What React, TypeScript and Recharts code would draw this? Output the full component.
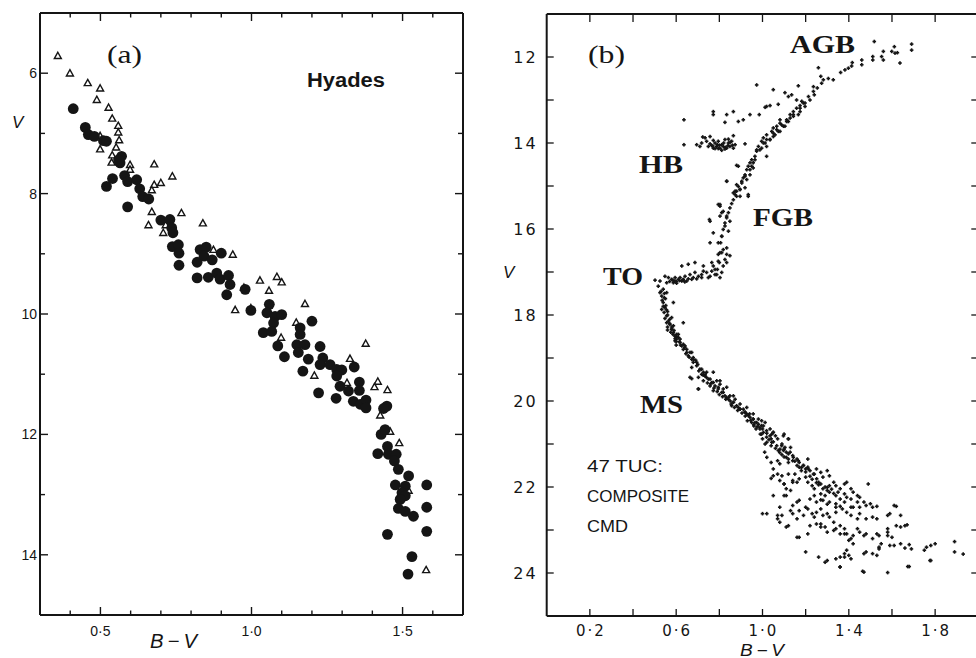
import React from "react";
import { ScatterChart, Scatter, XAxis, YAxis, ReferenceLine } from "recharts";

type Pt = [number, number];

const INK = "#151515";

// ---------- (a) Hyades: B-V against V ----------
const hyadesCircles: Pt[] = [
  [0.41, 6.59], [0.45, 6.9], [0.46, 7.02], [0.48, 7.05], [0.51, 7.12], [0.52, 7.13], [0.57, 7.38],
  [0.565, 7.49], [0.56, 7.44], [0.54, 7.75], [0.52, 7.88], [0.58, 7.7], [0.59, 7.8], [0.62, 7.77],
  [0.63, 7.92], [0.64, 8.05], [0.66, 8.09], [0.59, 8.22], [0.7, 8.44], [0.73, 8.43], [0.736, 8.57],
  [0.74, 8.65], [0.738, 8.88], [0.758, 8.85], [0.76, 8.99], [0.76, 9.19], [0.82, 9.14], [0.83, 8.93],
  [0.85, 8.89], [0.843, 9.04], [0.87, 9.1], [0.9, 8.99], [0.82, 9.4], [0.857, 9.39], [0.885, 9.32],
  [0.896, 9.42], [0.924, 9.36], [0.929, 9.51], [0.918, 9.68], [0.979, 9.59], [0.998, 9.94],
  [1.059, 9.84], [1.051, 9.98], [1.078, 10.04], [1.1, 10.01], [1.2, 10.12], [1.161, 10.23],
  [1.073, 10.15], [1.039, 10.31], [1.067, 10.29], [1.087, 10.53], [1.109, 10.71], [1.15, 10.51],
  [1.161, 10.34], [1.155, 10.64], [1.177, 10.51], [1.188, 10.75], [1.17, 10.95], [1.227, 10.54],
  [1.236, 10.73], [1.227, 10.84], [1.26, 10.84], [1.282, 10.92], [1.299, 10.93], [1.282, 11.03],
  [1.293, 11.2], [1.321, 11.28], [1.34, 10.88], [1.357, 11.13], [1.357, 11.27], [1.222, 11.31],
  [1.28, 11.4], [1.337, 11.45], [1.36, 11.5], [1.379, 11.43], [1.379, 11.56], [1.448, 11.53],
  [1.437, 11.57], [1.429, 12.0], [1.442, 11.92], [1.45, 12.2], [1.418, 12.32], [1.453, 12.33],
  [1.479, 12.33], [1.473, 12.44], [1.486, 12.58], [1.52, 12.69], [1.476, 12.84], [1.509, 12.86],
  [1.498, 12.97], [1.509, 13.02], [1.492, 13.08], [1.486, 13.23], [1.509, 13.28], [1.536, 13.36],
  [1.58, 12.84], [1.58, 13.21], [1.58, 13.61], [1.45, 13.66], [1.531, 14.03], [1.518, 14.32],
];

const hyadesTriangles: Pt[] = [
  [0.359, 5.71], [0.399, 6.0], [0.458, 6.16], [0.499, 6.25], [0.488, 6.44], [0.527, 6.57],
  [0.539, 6.75], [0.559, 6.87], [0.559, 6.98], [0.562, 7.11], [0.499, 7.04], [0.499, 7.26],
  [0.552, 7.23], [0.539, 7.36], [0.537, 7.48], [0.598, 7.52], [0.598, 7.6], [0.678, 7.51],
  [0.738, 7.71], [0.678, 7.85], [0.7, 7.82], [0.67, 7.94], [0.67, 8.3], [0.768, 8.32], [0.659, 8.52],
  [0.708, 8.65], [0.716, 8.52], [0.839, 8.49], [0.938, 9.01], [0.874, 8.93], [0.946, 9.93],
  [1.028, 9.44], [1.084, 9.38], [1.1, 9.47], [1.058, 9.61], [0.975, 9.56], [0.998, 9.9],
  [1.177, 9.83], [1.148, 10.14], [1.098, 10.39], [1.378, 10.49], [1.326, 10.74], [1.208, 11.02],
  [1.316, 11.14], [1.418, 11.12], [1.407, 11.21], [1.45, 11.26], [1.426, 11.68], [1.459, 11.95],
  [1.489, 12.14], [1.52, 12.93], [1.578, 14.25],
];

const hyadesXTicks = [0.4, 0.5, 0.6, 0.7, 0.8, 0.9, 1.0, 1.1, 1.2, 1.3, 1.4, 1.5, 1.6];
const hyadesXLabels = [0.5, 1.0, 1.5];
const hyadesYTicks = [6, 7, 8, 9, 10, 11, 12, 13, 14];
const hyadesYLabels = [6, 8, 10, 12, 14];

// ---------- (b) 47 Tuc composite CMD ----------
const agbPoints: Pt[] = [
  [1.518, 11.64], [1.611, 11.76], [1.691, 11.7], [1.691, 11.84], [1.637, 12.14], [1.56, 11.87],
  [1.552, 11.99], [1.56, 12.07], [1.511, 11.99], [1.511, 12.07], [1.599, 11.87], [1.614, 11.91],
  [1.625, 11.9], [1.46, 12.07], [1.46, 12.18], [1.416, 12.13], [1.413, 12.21], [1.398, 12.26],
  [1.382, 12.3], [1.362, 12.36], [1.328, 12.53], [1.305, 12.5], [1.282, 12.53], [1.27, 12.45],
  [1.259, 12.25], [1.274, 12.61], [1.254, 12.72], [1.24, 12.88], [1.213, 12.92], [1.166, 12.67],
  [1.135, 12.88], [1.104, 12.83], [0.973, 12.65], [1.073, 13.1], [1.012, 13.17], [0.985, 13.34],
  [0.942, 13.34], [0.911, 13.46], [0.888, 13.5], [0.865, 13.27], [0.834, 13.34], [0.826, 13.52],
  [0.772, 13.27], [0.772, 13.34], [0.636, 13.46], [1.236, 12.8], [1.22, 13.0], [1.182, 13.03],
  [1.158, 13.0], [1.236, 12.69], [1.174, 13.27], [1.05, 12.76], [1.035, 13.13], [1.019, 13.15],
  [1.12, 12.92],
];

const hbPoints: Pt[] = [
  [0.636, 14.04], [0.695, 14.04], [0.71, 14.08], [0.718, 14.0], [0.734, 13.88], [0.741, 13.96],
  [0.749, 14.08], [0.757, 14.02], [0.765, 14.06], [0.772, 14.12], [0.78, 14.0], [0.788, 14.08],
  [0.795, 13.96], [0.803, 14.12], [0.811, 14.04], [0.818, 14.08], [0.826, 13.92], [0.834, 14.12],
  [0.842, 14.0], [0.849, 14.08], [0.857, 13.96], [0.865, 14.12], [0.873, 14.04], [0.865, 13.83],
  [0.842, 13.91], [0.757, 13.85], [0.772, 13.94], [0.795, 14.13], [0.826, 14.14], [0.811, 14.17],
  [0.78, 14.13], [0.723, 13.86], [0.919, 14.02], [0.88, 14.52], [0.8, 14.05], [0.82, 14.0],
  [0.84, 14.06], [0.86, 14.05], [0.79, 14.04], [0.77, 14.07], [0.85, 13.98], [0.83, 14.1],
];

const rgbPoints: Pt[] = [
  [1.081, 13.46], [1.066, 13.61], [1.05, 13.65], [1.043, 13.73], [1.019, 13.81], [1.004, 13.88],
  [0.996, 13.96], [0.981, 14.08], [0.973, 14.19], [0.965, 14.31], [0.95, 14.39], [0.942, 14.46],
  [0.934, 14.54], [0.927, 14.62], [0.919, 14.74], [0.911, 14.81], [0.904, 14.89], [0.888, 15.01],
  [0.88, 15.12], [0.873, 15.2], [0.865, 15.32], [0.857, 15.41], [0.849, 15.51], [0.842, 15.62],
  [0.834, 15.74], [0.826, 15.86], [0.818, 16.01], [0.811, 16.17], [0.806, 16.32], [0.803, 16.55],
  [0.8, 16.78], [0.791, 16.94], [0.78, 17.06], [0.934, 15.24], [0.834, 14.89], [0.754, 15.78],
  [0.757, 16.32], [0.834, 16.44], [0.834, 16.78], [0.803, 15.47], [0.795, 15.43], [0.811, 15.62],
  [0.865, 15.16], [0.896, 15.24], [0.88, 14.97], [0.919, 15.04], [0.942, 14.74], [0.957, 14.58],
  [0.988, 14.16], [1.019, 13.92], [1.05, 13.77], [1.081, 13.73], [1.089, 13.58], [1.112, 13.46],
  [1.128, 13.34], [1.143, 13.27], [1.158, 13.19], [1.174, 13.13], [1.189, 13.07], [1.197, 13.15],
  [1.166, 13.34], [1.143, 13.38], [1.12, 13.5], [1.104, 13.61], [1.073, 13.73], [1.058, 13.81],
  [1.035, 13.92], [1.012, 14.0], [0.996, 14.12], [0.965, 14.39], [0.95, 14.54], [0.927, 14.85],
  [0.896, 15.08], [0.803, 15.43], [0.818, 15.59], [0.834, 15.7], [0.803, 15.7], [0.849, 15.82],
  [0.826, 15.93], [0.842, 16.05], [0.811, 16.17], [0.795, 16.32], [0.818, 16.48], [0.757, 15.82],
  [0.772, 16.09], [0.88, 15.24], [0.896, 15.08], [0.934, 15.2], [0.888, 14.54], [0.834, 14.89],
  [1.019, 14.31], [0.957, 14.46], [0.942, 14.62], [0.919, 14.77], [0.904, 14.93], [0.873, 15.12],
  [1.066, 13.69], [1.05, 13.85], [1.097, 13.61], [1.112, 13.5], [1.143, 13.34], [1.174, 13.19],
  [1.197, 13.07], [1.128, 13.42], [1.081, 13.54], [1.035, 13.92], [1.004, 14.0], [0.973, 14.16],
  [1.019, 14.08],
];

const subgiantPoints: Pt[] = [
  [0.502, 17.19], [0.525, 17.21], [0.548, 17.1], [0.564, 17.13], [0.579, 17.17], [0.587, 17.25],
  [0.594, 17.21], [0.61, 17.17], [0.618, 17.13], [0.633, 17.17], [0.641, 17.1], [0.656, 17.16],
  [0.664, 17.06], [0.679, 17.13], [0.687, 17.01], [0.703, 17.1], [0.718, 17.06], [0.726, 16.98],
  [0.741, 17.01], [0.757, 17.1], [0.765, 16.98], [0.772, 16.86], [0.788, 17.06], [0.803, 17.13],
  [0.811, 17.01], [0.795, 16.59], [0.811, 16.55], [0.834, 16.59], [0.849, 16.62], [0.826, 16.71],
  [0.818, 16.86], [0.626, 16.86], [0.656, 16.82], [0.687, 16.78], [0.726, 16.86], [0.765, 16.78],
  [0.795, 16.75], [0.78, 16.94], [0.595, 17.13], [0.602, 17.26], [0.626, 17.21], [0.649, 17.21],
  [0.672, 17.17], [0.695, 17.16], [0.718, 17.13], [0.749, 17.13], [0.556, 17.25], [0.585, 17.19],
  [0.6, 17.22], [0.615, 17.2], [0.63, 17.19], [0.57, 17.22], [0.64, 17.23],
];

const upperMsPoints: Pt[] = [
  [0.54, 17.4], [0.533, 17.56], [0.54, 17.71], [0.548, 17.83], [0.544, 17.94], [0.556, 18.02],
  [0.564, 18.14], [0.571, 18.22], [0.579, 18.33], [0.587, 18.41], [0.594, 18.49], [0.602, 18.56],
  [0.618, 18.64], [0.626, 18.72], [0.633, 18.8], [0.649, 18.87], [0.656, 18.95], [0.672, 19.03],
  [0.679, 19.1], [0.695, 19.18], [0.71, 19.26], [0.726, 19.33], [0.734, 19.42], [0.749, 19.49],
  [0.765, 19.57], [0.78, 19.65], [0.795, 19.72], [0.811, 19.8], [0.826, 19.88], [0.842, 19.96],
  [0.865, 20.03], [0.88, 20.11], [0.896, 20.19], [0.919, 20.26], [0.934, 20.34], [0.957, 20.42],
  [0.973, 20.5], [0.996, 20.57], [1.019, 20.69], [0.517, 17.33], [0.525, 17.48], [0.556, 17.48],
  [0.533, 17.87], [0.587, 17.71], [0.633, 18.18], [0.579, 18.06], [0.587, 18.25], [0.61, 18.52],
  [0.595, 18.6], [0.641, 18.72], [0.664, 18.87], [0.679, 18.99], [0.672, 19.22], [0.664, 19.45],
  [0.703, 19.72], [0.718, 19.38], [0.726, 19.53], [0.741, 19.33], [0.757, 19.65], [0.788, 19.53],
  [0.803, 19.61], [0.772, 19.76], [0.818, 19.72], [0.834, 19.92], [0.849, 19.88], [0.873, 19.96],
  [0.857, 20.11], [0.896, 20.07], [0.911, 20.19], [0.927, 20.3], [0.957, 20.3], [0.95, 20.5],
  [0.981, 20.42], [0.996, 20.46], [0.988, 20.65], [1.012, 20.5], [1.035, 20.65], [1.043, 20.77],
  [0.556, 18.18], [0.579, 18.33], [0.602, 18.45], [0.618, 18.56], [0.633, 18.68], [0.649, 18.8],
  [0.672, 18.87], [0.679, 19.03], [0.695, 19.1], [0.718, 19.26], [0.734, 19.38], [0.757, 19.49],
  [0.772, 19.57], [0.795, 19.68], [0.818, 19.8], [0.842, 19.92], [0.865, 20.03], [0.888, 20.15],
  [0.919, 20.26], [0.942, 20.38], [0.965, 20.5], [0.988, 20.61], [1.004, 20.73], [1.019, 20.84],
  [1.043, 20.96], [1.066, 21.04], [1.081, 21.12], [1.097, 21.15], [1.12, 21.23], [1.143, 21.31],
  [1.166, 21.39], [1.189, 21.5], [1.212, 21.58], [1.236, 21.7], [1.251, 21.81], [0.703, 19.45],
  [0.672, 19.48], [0.703, 19.72], [0.772, 19.33], [0.803, 19.53], [0.834, 19.68], [0.865, 19.88],
  [0.896, 20.19], [0.927, 20.15], [0.957, 20.42], [0.981, 20.54], [1.004, 20.58], [0.996, 20.77],
  [1.012, 21.0], [1.035, 20.81], [1.05, 20.73], [1.097, 20.81], [1.12, 20.88], [1.073, 21.15],
  [1.089, 21.04], [1.104, 21.08], [1.128, 21.19], [0.545, 17.5], [0.55, 17.62], [0.535, 17.66],
  [0.552, 17.78], [0.56, 17.92], [0.548, 18.08], [0.57, 18.1], [0.56, 18.28], [0.575, 18.4],
  [0.59, 18.36], [0.6, 18.5], [0.615, 18.62], [0.6, 18.7],
];

// the dark, crowded ridge of the main sequence
const msBandPoints: Pt[] = [
  [0.53, 17.45], [0.545, 17.6], [0.54, 17.8], [0.555, 17.88], [0.56, 18.0], [0.57, 18.2],
  [0.58, 18.28], [0.585, 18.45], [0.595, 18.55], [0.61, 18.45], [0.56, 18.35], [0.6, 18.62],
  [0.62, 18.7], [0.64, 18.76], [0.645, 18.9], [0.66, 18.98], [0.69, 19.05], [0.7, 19.15],
  [0.705, 19.3], [0.725, 19.4], [0.74, 19.45], [0.745, 19.58], [0.76, 19.6], [0.775, 19.7],
  [0.79, 19.78], [0.8, 19.85], [0.815, 19.9], [0.83, 19.96], [0.85, 20.0], [0.855, 20.07],
  [0.87, 20.15], [0.885, 20.22], [0.905, 20.28], [0.92, 20.35], [0.94, 20.3], [0.945, 20.45],
  [0.96, 20.55], [0.975, 20.6], [1.0, 20.65], [1.02, 20.75], [1.03, 20.9], [1.05, 20.95],
  [1.06, 21.1], [1.08, 21.2], [1.09, 21.25], [1.1, 21.3], [1.12, 21.35], [1.15, 21.4],
  [1.16, 21.5], [1.18, 21.55], [1.2, 21.65], [1.22, 21.75], [1.23, 21.82], [1.25, 21.9],
  [1.26, 21.95], [1.29, 22.0], [1.32, 22.05], [1.33, 22.15], [1.29, 22.2], [1.27, 22.3],
  [1.3, 22.4], [1.36, 22.45],
];

const lowerMsPoints: Pt[] = [
  [0.93, 20.46], [0.96, 20.58], [0.97, 20.65], [0.99, 20.77], [1.0, 20.88], [1.02, 20.96],
  [1.04, 21.04], [1.06, 20.81], [1.07, 20.88], [1.09, 21.0], [1.1, 21.12], [1.11, 21.19],
  [1.13, 21.08], [1.11, 21.31], [1.14, 21.27], [1.16, 21.35], [1.17, 21.43], [1.19, 21.5],
  [1.21, 21.35], [1.21, 21.54], [1.22, 21.62], [1.24, 21.7], [1.25, 21.58], [1.27, 21.66],
  [1.28, 21.77], [1.3, 21.62], [1.31, 21.74], [1.27, 21.93], [1.3, 22.01], [1.33, 21.89],
  [1.34, 21.97], [1.36, 22.04], [1.38, 21.93], [1.39, 21.89], [1.41, 22.04], [1.42, 22.12],
  [1.44, 22.2], [1.45, 22.24], [1.47, 22.35], [1.48, 22.43], [1.5, 22.39], [1.51, 22.47],
  [1.53, 22.45], [1.31, 22.12], [1.34, 22.2], [1.36, 22.28], [1.38, 22.35], [1.41, 22.47],
  [1.34, 22.39], [1.37, 22.51], [1.39, 22.59], [1.41, 22.66], [1.44, 22.74], [1.45, 22.62],
  [1.48, 22.74], [1.51, 22.7], [1.53, 22.74], [1.58, 22.66], [1.59, 22.62], [1.61, 22.43],
  [1.62, 22.45], [1.64, 22.66], [1.62, 22.9], [1.64, 22.93], [1.66, 22.9], [1.67, 22.88],
  [1.58, 22.97], [1.58, 23.05], [1.54, 23.13], [1.53, 23.09], [1.51, 23.2], [1.48, 23.09],
  [1.47, 23.13], [1.45, 23.05], [1.44, 22.97], [1.42, 23.13], [1.41, 23.2], [1.39, 23.09],
  [1.38, 22.97], [1.36, 22.9], [1.33, 22.82], [1.31, 22.7], [1.3, 22.62], [1.28, 22.66],
  [1.27, 22.51], [1.25, 22.59], [1.24, 22.7], [1.23, 22.62], [1.21, 22.51], [1.19, 22.66],
  [1.17, 22.55], [1.16, 22.74], [1.14, 22.62], [1.13, 22.55], [1.11, 22.2], [1.1, 22.2],
  [1.08, 22.47], [1.07, 22.66], [1.05, 22.2], [1.09, 22.66], [1.07, 22.74], [1.08, 22.82],
  [1.11, 22.93], [1.12, 22.9], [1.16, 23.17], [1.17, 23.17], [1.21, 23.09], [1.22, 22.9],
  [1.25, 22.86], [1.27, 22.93], [1.27, 22.86], [1.29, 22.93], [1.3, 23.05], [1.33, 23.01],
  [1.34, 22.97], [1.36, 23.09], [1.38, 23.09], [1.4, 23.24], [1.42, 23.32], [1.39, 23.47],
  [1.38, 23.55], [1.38, 23.63], [1.4, 23.59], [1.41, 23.67], [1.36, 23.63], [1.34, 23.67],
  [1.3, 23.71], [1.29, 23.75], [1.26, 23.63], [1.2, 23.51], [1.36, 23.86], [1.47, 23.98],
  [1.58, 23.99], [1.47, 23.55], [1.48, 23.51], [1.51, 23.55], [1.53, 23.59], [1.54, 23.44],
  [1.55, 23.32], [1.54, 23.4], [1.58, 23.13], [1.6, 23.17], [1.59, 23.36], [1.61, 23.36],
  [1.64, 23.32], [1.66, 23.42], [1.68, 23.34], [1.69, 23.44], [1.75, 23.47], [1.76, 23.4],
  [1.78, 23.36], [1.8, 23.32], [1.78, 23.71], [1.68, 23.85], [1.89, 23.27], [1.89, 23.51],
  [1.93, 23.56], [1.0, 22.62], [1.02, 22.62], [1.04, 21.8], [1.05, 21.58], [1.07, 21.7],
  [1.09, 21.74], [1.1, 21.93], [1.12, 21.7], [1.14, 21.85], [1.16, 21.89], [1.17, 21.81],
  [1.2, 21.77], [1.21, 21.89], [1.23, 21.97], [1.24, 22.04], [1.26, 21.89], [1.27, 22.16],
  [1.28, 22.31], [1.22, 22.28], [1.2, 22.47], [1.17, 22.31], [1.16, 22.35], [1.14, 22.43],
  [1.24, 22.2], [1.31, 22.35], [1.25, 22.35], [1.34, 22.59], [1.34, 22.47], [1.39, 22.24],
  [1.41, 22.28], [1.44, 22.35], [1.45, 22.47], [1.42, 22.47], [1.49, 21.93], [1.31, 21.97],
  [1.28, 22.04], [1.3, 22.08], [1.35, 22.12], [1.38, 22.16], [1.01, 21.19], [1.02, 21.31],
  [1.04, 20.88], [1.05, 20.73], [1.1, 20.77], [1.12, 20.88], [1.04, 21.43], [1.07, 21.39],
  [1.08, 21.46], [1.12, 21.43], [1.14, 21.39], [1.17, 21.54], [1.18, 21.62], [1.15, 21.7],
  [1.2, 21.58], [1.14, 21.89], [1.13, 22.08], [1.11, 22.04], [1.1, 21.93], [1.08, 21.85],
  [1.05, 21.74], [1.464, 23.96], [1.359, 23.86], [1.673, 23.85], [1.776, 23.71],
];

const tucXTicks = [0.2, 0.4, 0.6, 0.8, 1.0, 1.2, 1.4, 1.6, 1.8];
const tucXLabels = [0.2, 0.6, 1.0, 1.4, 1.8];
const tucYTicks = [12, 13, 14, 15, 16, 17, 18, 19, 20, 21, 22, 23, 24];
const tucYLabels = [12, 14, 16, 18, 20, 22, 24];

const rows = (pts: Pt[]) => pts.map(([x, y]) => ({ x, y }));
const isIn = (list: number[], v: number) => list.some((l) => Math.abs(l - v) < 1e-6);
const dotted = (v: number) => v.toFixed(1).replace(".", "\u00b7");

// plot boxes (chart-local pixels)
const A = { left: 40, right: 463, top: 13, bottom: 615 };
const B = { left: 66.7, right: 498.3, top: 14, bottom: 616 };
const AXIS_X_H = 30;
const AXIS_Y_W = 36;

const Disc = (p: any) => <circle cx={p.cx} cy={p.cy} r={5.4} fill={INK} />;
const OpenTri = (p: any) => {
  const s = 3.5;
  return (
    <polygon
      points={`${p.cx},${p.cy - s} ${p.cx + s},${p.cy + s * 0.8} ${p.cx - s},${p.cy + s * 0.8}`}
      fill="#fff"
      stroke={INK}
      strokeWidth={1.4}
    />
  );
};
const Speck = (p: any) => (
  <g fill={INK}>
    <rect x={p.cx - 1.8} y={p.cy - 0.8} width={3.6} height={1.6} />
    <rect x={p.cx - 0.8} y={p.cy - 1.8} width={1.6} height={3.6} />
  </g>
);

const HyadesXTick = (p: any) => {
  const v = p.payload.value;
  const major = isIn(hyadesXLabels, v);
  const len = major ? 8 : 4.5;
  return (
    <g>
      <line x1={p.x} x2={p.x} y1={A.bottom} y2={A.bottom - len} stroke={INK} strokeWidth={1.4} />
      <line x1={p.x} x2={p.x} y1={A.top} y2={A.top + len} stroke={INK} strokeWidth={1.4} />
      {major && (
        <text x={p.x} y={A.bottom + 21} textAnchor="middle" fontSize={14} fill={INK}
          fontFamily="Liberation Sans, Arial, sans-serif">{dotted(v)}</text>
      )}
    </g>
  );
};

const HyadesYTick = (p: any) => {
  const v = p.payload.value;
  const major = isIn(hyadesYLabels, v);
  const len = major ? 8 : 5;
  return (
    <g>
      <line x1={A.left} x2={A.left + len} y1={p.y} y2={p.y} stroke={INK} strokeWidth={1.4} />
      <line x1={A.right} x2={A.right - len} y1={p.y} y2={p.y} stroke={INK} strokeWidth={1.4} />
      {major && (
        <text x={A.left - 3} y={p.y + 5} textAnchor="end" fontSize={14} fill={INK}
          fontFamily="Liberation Sans, Arial, sans-serif">{v}</text>
      )}
    </g>
  );
};

const TucXTick = (p: any) => {
  const v = p.payload.value;
  const major = isIn(tucXLabels, v);
  return (
    <g>
      <line x1={p.x} x2={p.x} y1={B.bottom} y2={B.bottom - 7} stroke={INK} strokeWidth={1.3} />
      <line x1={p.x} x2={p.x} y1={B.top} y2={B.top + 8} stroke={INK} strokeWidth={1.3} />
      {major && (
        <text x={p.x + 1} y={B.bottom + 20} textAnchor="middle" fontSize={15} letterSpacing={2}
          fill={INK} fontFamily="DejaVu Sans, sans-serif">{dotted(v)}</text>
      )}
    </g>
  );
};

const TucYTick = (p: any) => {
  const v = p.payload.value;
  const major = isIn(tucYLabels, v);
  return (
    <g>
      <line x1={B.left} x2={B.left + 7} y1={p.y} y2={p.y} stroke={INK} strokeWidth={1.3} />
      <line x1={B.right} x2={B.right - 7} y1={p.y} y2={p.y} stroke={INK} strokeWidth={1.3} />
      {major && (
        <text x={B.left - 9} y={p.y + 6} textAnchor="end" fontSize={16} letterSpacing={2}
          fill={INK} fontFamily="DejaVu Sans, sans-serif">{v}</text>
      )}
    </g>
  );
};

const frame = { stroke: INK, strokeWidth: 2 };

const HyadesPanel = () => (
  <ScatterChart width={480} height={658}
    margin={{ top: A.top, right: 480 - A.right, bottom: 658 - A.bottom - AXIS_X_H, left: A.left - AXIS_Y_W }}>
    <XAxis type="number" dataKey="x" domain={[0.3, 1.7]} allowDataOverflow ticks={hyadesXTicks}
      interval={0} height={AXIS_X_H} tickLine={false} axisLine={frame} tick={HyadesXTick} />
    <YAxis type="number" dataKey="y" domain={[5, 15]} reversed allowDataOverflow ticks={hyadesYTicks}
      interval={0} width={AXIS_Y_W} tickLine={false} axisLine={frame} tick={HyadesYTick} />
    <ReferenceLine y={5} {...frame} />
    <ReferenceLine x={1.7} {...frame} />
    <Scatter data={rows(hyadesTriangles)} shape={OpenTri} isAnimationActive={false} />
    <Scatter data={rows(hyadesCircles)} shape={Disc} isAnimationActive={false} />
  </ScatterChart>
);

const TucPanel = () => (
  <ScatterChart width={500} height={658}
    margin={{ top: B.top, right: 500 - B.right, bottom: 658 - B.bottom - AXIS_X_H, left: B.left - AXIS_Y_W }}>
    <XAxis type="number" dataKey="x" domain={[0, 2]} allowDataOverflow ticks={tucXTicks}
      interval={0} height={AXIS_X_H} tickLine={false} axisLine={frame} tick={TucXTick} />
    <YAxis type="number" dataKey="y" domain={[11, 25]} reversed allowDataOverflow ticks={tucYTicks}
      interval={0} width={AXIS_Y_W} tickLine={false} axisLine={frame} tick={TucYTick} />
    <ReferenceLine y={11} {...frame} />
    <ReferenceLine x={2} {...frame} />
    <Scatter data={rows(agbPoints)} shape={Speck} isAnimationActive={false} />
    <Scatter data={rows(hbPoints)} shape={Speck} isAnimationActive={false} />
    <Scatter data={rows(rgbPoints)} shape={Speck} isAnimationActive={false} />
    <Scatter data={rows(subgiantPoints)} shape={Speck} isAnimationActive={false} />
    <Scatter data={rows(upperMsPoints)} shape={Speck} isAnimationActive={false} />
    <Scatter data={rows(msBandPoints)} shape={Speck} isAnimationActive={false} />
    <Scatter data={rows(lowerMsPoints)} shape={Speck} isAnimationActive={false} />
  </ScatterChart>
);

const serif = "Liberation Serif, DejaVu Serif, serif";
const sans = "Liberation Sans, Arial, sans-serif";

export default function App() {
  return (
    <div style={{ position: "absolute", left: 0, top: 0, width: 976, height: 658, overflow: "hidden", background: "#fff" }}>
      <div style={{ position: "absolute", left: 0, top: 0 }}>
        <HyadesPanel />
      </div>
      <div style={{ position: "absolute", left: 480, top: 0 }}>
        <TucPanel />
      </div>
      <svg width={976} height={658} style={{ position: "absolute", left: 0, top: 0, pointerEvents: "none" }}>
        <g fill={INK}>
          <text x={107} y={63} fontFamily={serif} fontSize={25} textLength={35} lengthAdjust="spacingAndGlyphs">(a)</text>
          <text x={307} y={87} fontFamily={sans} fontWeight="bold" fontSize={20} textLength={78} lengthAdjust="spacingAndGlyphs">Hyades</text>
          <text x={12} y={128} fontFamily={sans} fontStyle="italic" fontSize={17}>V</text>
          <text x={150} y={648} fontFamily={sans} fontStyle="italic" fontSize={20} textLength={47} lengthAdjust="spacingAndGlyphs">B{"\u2009\u2212\u2009"}V</text>

          <text x={588} y={63} fontFamily={serif} fontSize={25} textLength={37} lengthAdjust="spacingAndGlyphs">(b)</text>
          <text x={790} y={53} fontFamily={serif} fontWeight="bold" fontSize={26} textLength={65} lengthAdjust="spacingAndGlyphs">AGB</text>
          <text x={639} y={173} fontFamily={serif} fontWeight="bold" fontSize={26} textLength={44} lengthAdjust="spacingAndGlyphs">HB</text>
          <text x={753} y={226} fontFamily={serif} fontWeight="bold" fontSize={26} textLength={60} lengthAdjust="spacingAndGlyphs">FGB</text>
          <text x={603} y={285} fontFamily={serif} fontWeight="bold" fontSize={26} textLength={40} lengthAdjust="spacingAndGlyphs">TO</text>
          <text x={640} y={413} fontFamily={serif} fontWeight="bold" fontSize={26} textLength={43} lengthAdjust="spacingAndGlyphs">MS</text>
          <text x={587} y={472} fontFamily={sans} fontSize={17} textLength={76} lengthAdjust="spacingAndGlyphs">47 TUC:</text>
          <text x={587} y={502} fontFamily={sans} fontSize={17} textLength={102} lengthAdjust="spacingAndGlyphs">COMPOSITE</text>
          <text x={587} y={532} fontFamily={sans} fontSize={17} textLength={41} lengthAdjust="spacingAndGlyphs">CMD</text>
          <text x={503} y={278} fontFamily={sans} fontStyle="italic" fontSize={17}>V</text>
          <text x={740} y={656} fontFamily={sans} fontStyle="italic" fontSize={16} textLength={44} lengthAdjust="spacingAndGlyphs">B{"\u2009\u2212\u2009"}V</text>
        </g>
      </svg>
    </div>
  );
}
